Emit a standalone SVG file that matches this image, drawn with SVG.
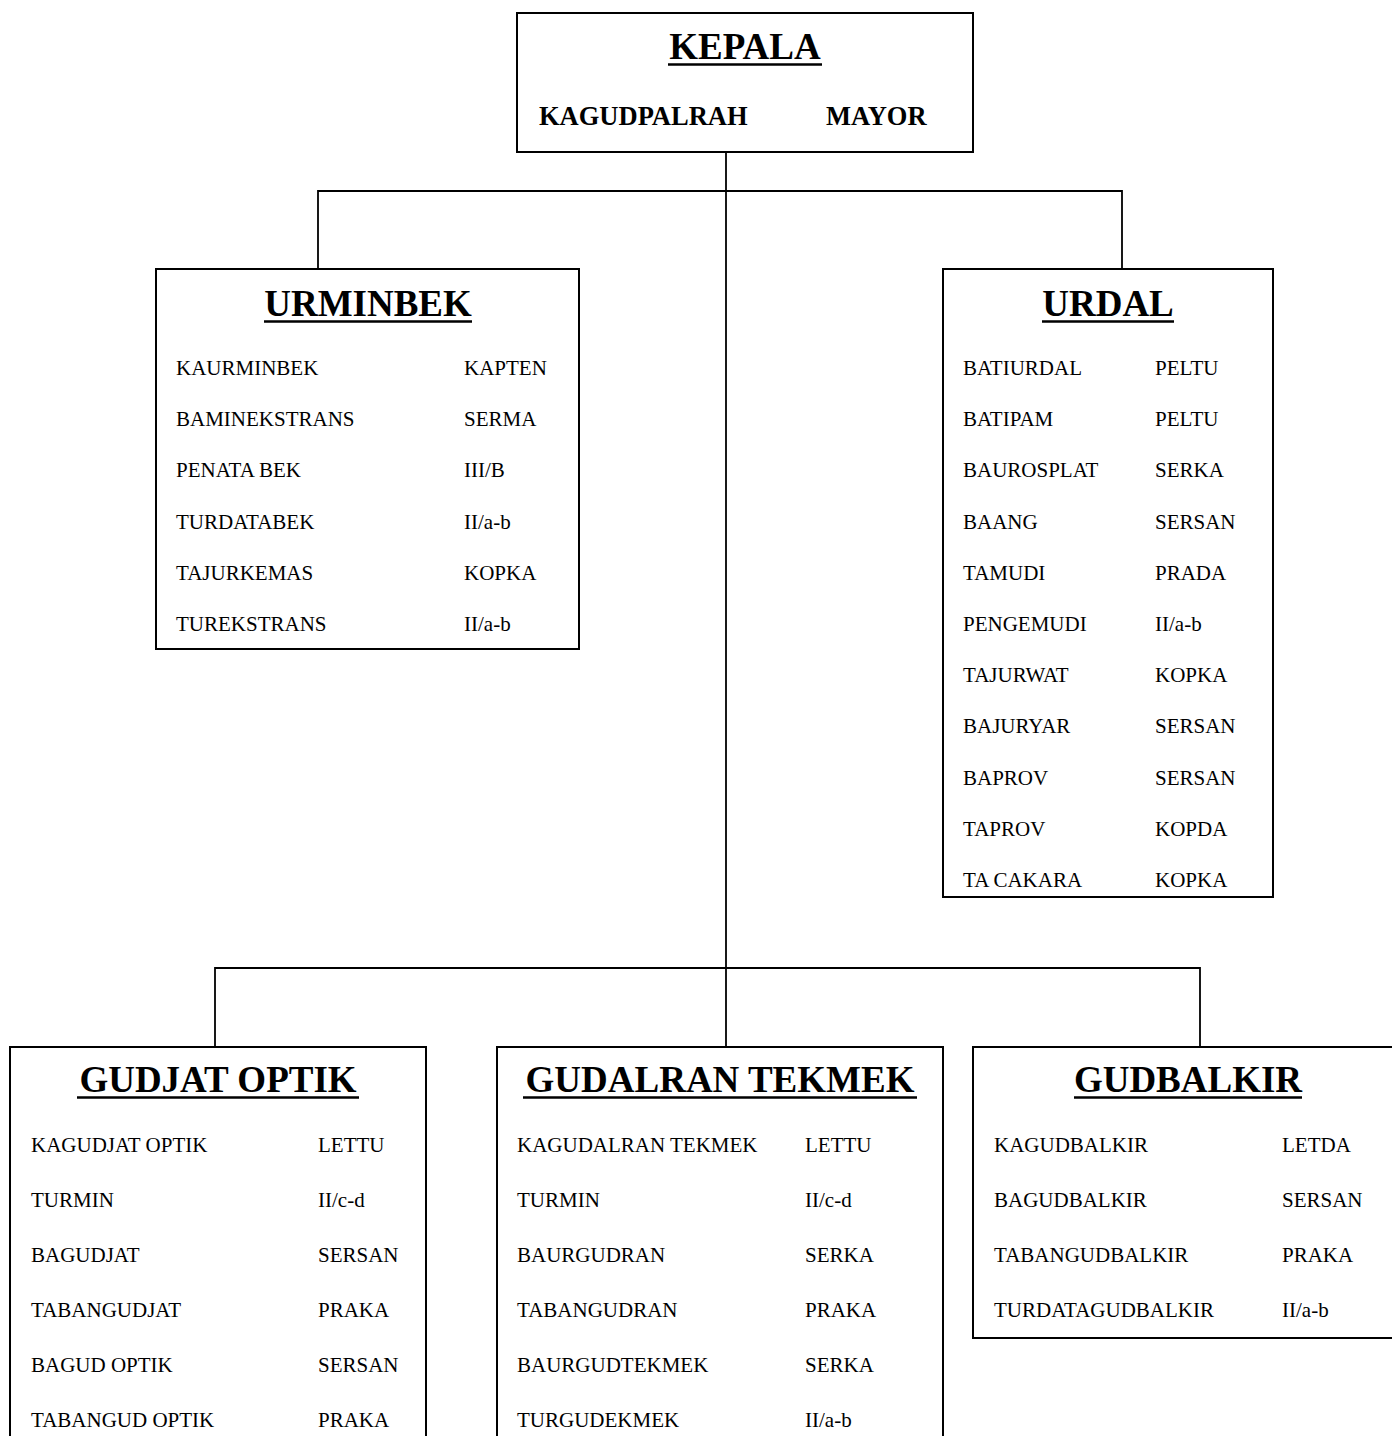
<svg xmlns="http://www.w3.org/2000/svg" width="1392" height="1436" viewBox="0 0 1392 1436">
<style>
.box{fill:#fff;stroke:#000;stroke-width:2}
.conn{fill:none;stroke:#000;stroke-width:1.8}
.title{font-family:"Liberation Serif","Times New Roman",serif;font-weight:bold;font-size:37px;fill:#000;text-anchor:middle}
.ul{stroke:#000;stroke-width:2.6}
.head{font-family:"Liberation Serif","Times New Roman",serif;font-weight:bold;font-size:26.5px;fill:#000}
.row{font-family:"Liberation Serif","Times New Roman",serif;font-size:21px;fill:#000}
</style>
<rect width="1392" height="1436" fill="#fff"/>
<g id="connectors">
<path class="conn" d="M726,152 V1046"/>
<path class="conn" d="M318,269 V191 H1122 V269"/>
<path class="conn" d="M215,1046 V968 H1200 V1046"/>
</g>
<g id="kepala">
<rect class="box" x="517" y="13" width="456" height="139"/>
<text class="title" x="745" y="59">KEPALA</text>
<line class="ul" x1="668" y1="64.5" x2="822" y2="64.5"/>
<text class="head" x="539" y="125">KAGUDPALRAH</text>
<text class="head" x="826" y="125">MAYOR</text>
</g>
<g id="urminbek">
<rect class="box" x="156" y="269" width="423" height="380"/>
<text class="title" x="368" y="316">URMINBEK</text>
<line class="ul" x1="264" y1="321.5" x2="472" y2="321.5"/>
<text class="row" x="176" y="375">KAURMINBEK</text><text class="row" x="464" y="375">KAPTEN</text>
<text class="row" x="176" y="426">BAMINEKSTRANS</text><text class="row" x="464" y="426">SERMA</text>
<text class="row" x="176" y="477">PENATA BEK</text><text class="row" x="464" y="477">III/B</text>
<text class="row" x="176" y="528.5">TURDATABEK</text><text class="row" x="464" y="528.5">II/a-b</text>
<text class="row" x="176" y="580">TAJURKEMAS</text><text class="row" x="464" y="580">KOPKA</text>
<text class="row" x="176" y="631">TUREKSTRANS</text><text class="row" x="464" y="631">II/a-b</text>
</g>
<g id="urdal">
<rect class="box" x="943" y="269" width="330" height="628"/>
<text class="title" x="1108" y="316">URDAL</text>
<line class="ul" x1="1042" y1="321.5" x2="1174" y2="321.5"/>
<text class="row" x="963" y="375">BATIURDAL</text><text class="row" x="1155" y="375">PELTU</text>
<text class="row" x="963" y="426">BATIPAM</text><text class="row" x="1155" y="426">PELTU</text>
<text class="row" x="963" y="477.4">BAUROSPLAT</text><text class="row" x="1155" y="477.4">SERKA</text>
<text class="row" x="963" y="528.6">BAANG</text><text class="row" x="1155" y="528.6">SERSAN</text>
<text class="row" x="963" y="579.8">TAMUDI</text><text class="row" x="1155" y="579.8">PRADA</text>
<text class="row" x="963" y="631">PENGEMUDI</text><text class="row" x="1155" y="631">II/a-b</text>
<text class="row" x="963" y="682.2">TAJURWAT</text><text class="row" x="1155" y="682.2">KOPKA</text>
<text class="row" x="963" y="733.4">BAJURYAR</text><text class="row" x="1155" y="733.4">SERSAN</text>
<text class="row" x="963" y="784.6">BAPROV</text><text class="row" x="1155" y="784.6">SERSAN</text>
<text class="row" x="963" y="835.8">TAPROV</text><text class="row" x="1155" y="835.8">KOPDA</text>
<text class="row" x="963" y="887">TA CAKARA</text><text class="row" x="1155" y="887">KOPKA</text>
</g>
<g id="gudjat-optik">
<rect class="box" x="10" y="1047" width="416" height="420"/>
<text class="title" x="218" y="1092">GUDJAT OPTIK</text>
<line class="ul" x1="77" y1="1097.5" x2="359" y2="1097.5"/>
<text class="row" x="31" y="1152">KAGUDJAT OPTIK</text><text class="row" x="318" y="1152">LETTU</text>
<text class="row" x="31" y="1207">TURMIN</text><text class="row" x="318" y="1207">II/c-d</text>
<text class="row" x="31" y="1262">BAGUDJAT</text><text class="row" x="318" y="1262">SERSAN</text>
<text class="row" x="31" y="1317">TABANGUDJAT</text><text class="row" x="318" y="1317">PRAKA</text>
<text class="row" x="31" y="1372">BAGUD OPTIK</text><text class="row" x="318" y="1372">SERSAN</text>
<text class="row" x="31" y="1427">TABANGUD OPTIK</text><text class="row" x="318" y="1427">PRAKA</text>
</g>
<g id="gudalran-tekmek">
<rect class="box" x="497" y="1047" width="446" height="420"/>
<text class="title" x="720" y="1092">GUDALRAN TEKMEK</text>
<line class="ul" x1="523" y1="1097.5" x2="917" y2="1097.5"/>
<text class="row" x="517" y="1152">KAGUDALRAN TEKMEK</text><text class="row" x="805" y="1152">LETTU</text>
<text class="row" x="517" y="1207">TURMIN</text><text class="row" x="805" y="1207">II/c-d</text>
<text class="row" x="517" y="1262">BAURGUDRAN</text><text class="row" x="805" y="1262">SERKA</text>
<text class="row" x="517" y="1317">TABANGUDRAN</text><text class="row" x="805" y="1317">PRAKA</text>
<text class="row" x="517" y="1372">BAURGUDTEKMEK</text><text class="row" x="805" y="1372">SERKA</text>
<text class="row" x="517" y="1427">TURGUDEKMEK</text><text class="row" x="805" y="1427">II/a-b</text>
</g>
<g id="gudbalkir">
<rect class="box" x="973" y="1047" width="440" height="291"/>
<text class="title" x="1188" y="1092">GUDBALKIR</text>
<line class="ul" x1="1074" y1="1097.5" x2="1302" y2="1097.5"/>
<text class="row" x="994" y="1152">KAGUDBALKIR</text><text class="row" x="1282" y="1152">LETDA</text>
<text class="row" x="994" y="1207">BAGUDBALKIR</text><text class="row" x="1282" y="1207">SERSAN</text>
<text class="row" x="994" y="1262">TABANGUDBALKIR</text><text class="row" x="1282" y="1262">PRAKA</text>
<text class="row" x="994" y="1317">TURDATAGUDBALKIR</text><text class="row" x="1282" y="1317">II/a-b</text>
</g>
</svg>
